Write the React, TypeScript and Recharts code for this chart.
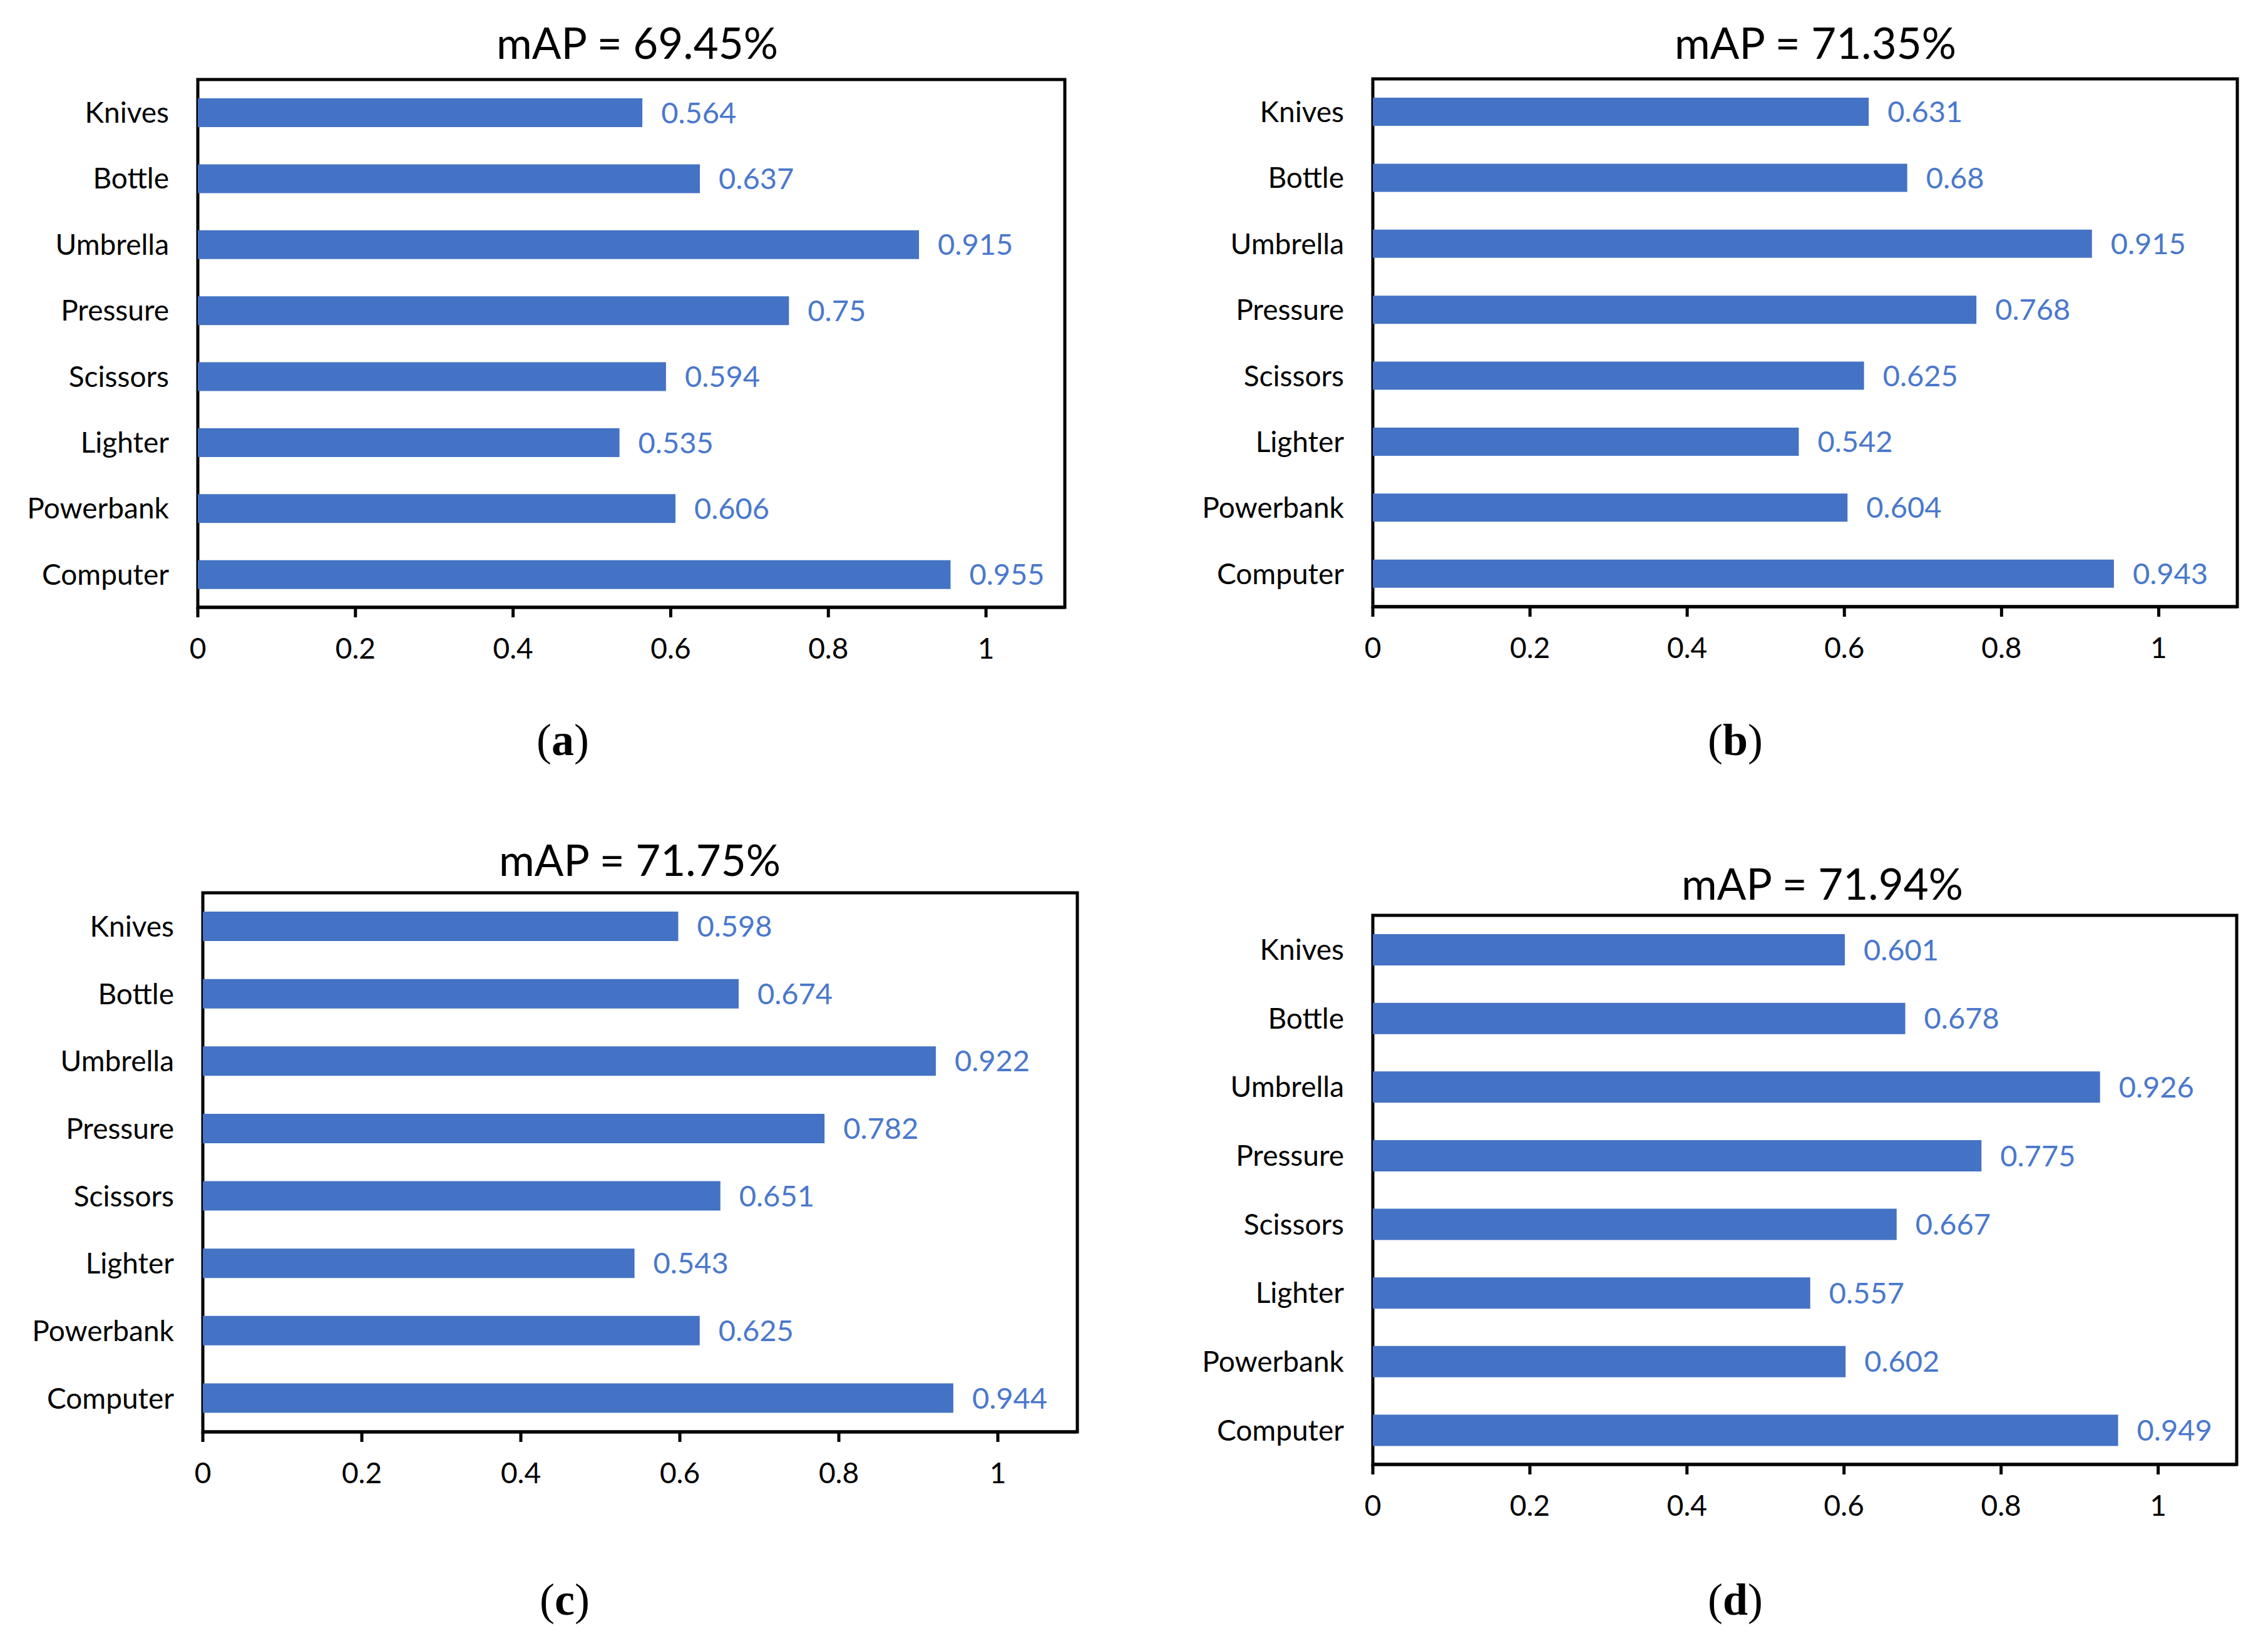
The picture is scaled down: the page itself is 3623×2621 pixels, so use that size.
import React from "react";
import { BarChart, Bar, XAxis, YAxis, LabelList, ReferenceArea } from "recharts";

const categories = ["Knives", "Bottle", "Umbrella", "Pressure", "Scissors", "Lighter", "Powerbank", "Computer"];
const valuesA = [0.564, 0.637, 0.915, 0.75, 0.594, 0.535, 0.606, 0.955];
const valuesB = [0.631, 0.68, 0.915, 0.768, 0.625, 0.542, 0.604, 0.943];
const valuesC = [0.598, 0.674, 0.922, 0.782, 0.651, 0.543, 0.625, 0.944];
const valuesD = [0.601, 0.678, 0.926, 0.775, 0.667, 0.557, 0.602, 0.949];
const titles = ["mAP = 69.45%", "mAP = 71.35%", "mAP = 71.75%", "mAP = 71.94%"];
const captions = ["a", "b", "c", "d"];
const xTicks = [0, 0.2, 0.4, 0.6, 0.8, 1];
const xDomain: [number, number] = [0, 1.1];

const BLUE = "#4472C4";
const LABEL_BLUE = "#4A78CC";
const FONT = "Lato, 'Open Sans', sans-serif";

type PanelProps = {
  values: number[];
  title: string;
  caption: string;
  ox: number;
  oy: number;
  L: number;
  T: number;
  R: number;
  B: number;
  barSize: number;
  tx: number;
  ty: number;
  cx: number;
  cy: number;
};

function Panel(p: PanelProps) {
  const data = categories.map((c, i) => ({ name: c, value: p.values[i] }));
  const rightM = 40;
  const xAxisH = 100;
  const bottomM = 50;
  const width = p.R - p.ox + rightM;
  const height = p.B - p.oy + xAxisH + bottomM;
  return (
    <>
      <div style={{ position: "absolute", left: p.ox, top: p.oy, width, height }}>
        <BarChart
          width={width}
          height={height}
          data={data}
          layout="vertical"
          margin={{ top: p.T - p.oy, right: rightM, left: 0, bottom: bottomM }}
        >
          <XAxis
            type="number"
            domain={xDomain}
            ticks={xTicks}
            allowDataOverflow
            axisLine={{ stroke: "#000", strokeWidth: 5 }}
            tickLine={{ stroke: "#000", strokeWidth: 5 }}
            tickSize={16}
            tickMargin={33}
            height={xAxisH}
            tick={{ fontSize: 46, fill: "#000", fontFamily: FONT }}
          />
          <YAxis
            type="category"
            dataKey="name"
            width={p.L - p.ox}
            axisLine={false}
            tickLine={false}
            tickSize={0}
            tickMargin={46}
            interval={0}
            tick={{ fontSize: 46, fill: "#000", fontFamily: FONT }}
          />
          <Bar dataKey="value" fill={BLUE} barSize={p.barSize} isAnimationActive={false}>
            <LabelList
              dataKey="value"
              position="right"
              offset={30}
              fill={LABEL_BLUE}
              fontSize={47}
              fontFamily={FONT}
            />
          </Bar>
          <ReferenceArea x1={0} x2={1.1} fill="none" stroke="#000" strokeWidth={5} ifOverflow="visible" />
        </BarChart>
      </div>
      <div
        style={{
          position: "absolute",
          left: p.tx - 500,
          top: p.ty - 44,
          width: 1000,
          height: 88,
          lineHeight: "88px",
          textAlign: "center",
          fontFamily: FONT,
          fontSize: 69,
          color: "#000",
        }}
      >
        {p.title}
      </div>
      <div
        style={{
          position: "absolute",
          left: p.cx - 200,
          top: p.cy - 45,
          width: 400,
          height: 90,
          lineHeight: "90px",
          textAlign: "center",
          fontFamily: "'Liberation Serif', 'Times New Roman', serif",
          fontSize: 72,
          color: "#000",
        }}
      >
        (<b>{p.caption}</b>)
      </div>
    </>
  );
}

export default function App() {
  return (
    <div
      style={{
        position: "absolute",
        left: 0,
        top: 0,
        width: 3623,
        height: 2621,
        background: "#fff",
        overflow: "hidden",
      }}
    >
      <Panel values={valuesA} title={titles[0]} caption={captions[0]} ox={0} oy={0} L={316} T={127} R={1701} B={970} barSize={46} tx={1018} ty={68} cx={899} cy={1182} />
      <Panel values={valuesB} title={titles[1]} caption={captions[1]} ox={1811} oy={0} L={2193} T={126} R={3574} B={969} barSize={45} tx={2900} ty={68} cx={2772} cy={1182} />
      <Panel values={valuesC} title={titles[2]} caption={captions[2]} ox={0} oy={1310} L={324} T={1426} R={1721} B={2287} barSize={47} tx={1022} ty={1373} cx={902} cy={2555} />
      <Panel values={valuesD} title={titles[3]} caption={captions[3]} ox={1811} oy={1310} L={2193} T={1462} R={3573} B={2339} barSize={50} tx={2911} ty={1411} cx={2772} cy={2555} />
    </div>
  );
}
